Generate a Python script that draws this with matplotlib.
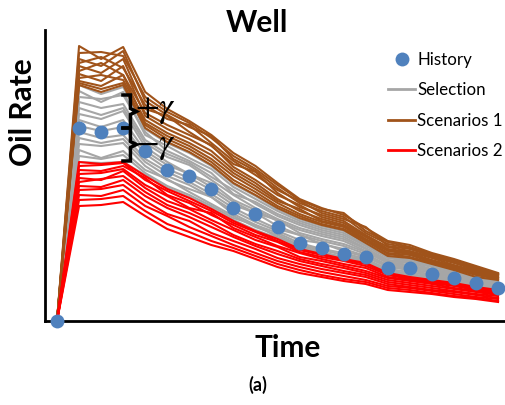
import matplotlib
matplotlib.use("Agg")
import matplotlib.pyplot as plt
from matplotlib.lines import Line2D

plt.rcParams['font.family'] = ['Lato', 'DejaVu Sans']

time = list(range(21))
history = [0, 193, 189, 193, 170, 151, 145, 132, 113, 107, 94, 78, 73, 67, 64, 53, 53, 47, 43, 38, 33]

selection = [
    [0, 236, 227, 234, 192, 178, 168, 155, 137, 125, 112, 102, 95, 90, 78, 65, 63, 57, 51, 44, 41],
    [0, 230, 219, 229, 186, 175, 163, 152, 134, 122, 110, 100, 93, 88, 76, 64, 61, 56, 50, 43, 40],
    [0, 224, 222, 226, 189, 170, 160, 148, 127, 119, 107, 98, 91, 86, 75, 63, 60, 55, 49, 43, 39],
    [0, 219, 213, 217, 181, 167, 158, 144, 131, 117, 105, 96, 89, 84, 73, 61, 59, 54, 48, 42, 38],
    [0, 213, 206, 213, 178, 164, 156, 141, 126, 113, 102, 93, 87, 82, 72, 60, 58, 52, 47, 41, 38],
    [0, 207, 202, 210, 174, 159, 147, 138, 121, 111, 100, 91, 85, 80, 70, 59, 56, 51, 46, 41, 37],
    [0, 201, 194, 201, 170, 156, 147, 134, 119, 108, 101, 88, 82, 77, 69, 58, 55, 50, 45, 40, 36],
    [0, 195, 190, 194, 167, 152, 143, 131, 116, 108, 95, 86, 80, 75, 67, 56, 54, 49, 44, 39, 35],
    [0, 189, 183, 186, 162, 149, 139, 127, 113, 102, 92, 86, 77, 72, 65, 55, 52, 48, 43, 38, 34],
    [0, 183, 178, 182, 159, 145, 136, 124, 110, 99, 90, 81, 78, 70, 64, 54, 51, 46, 42, 37, 34],
    [0, 177, 175, 178, 155, 141, 132, 124, 107, 96, 88, 78, 72, 68, 62, 52, 49, 45, 41, 37, 33],
    [0, 171, 163, 170, 151, 142, 129, 117, 105, 94, 86, 76, 71, 66, 61, 51, 47, 44, 40, 36, 32],
    [0, 165, 162, 166, 148, 135, 126, 115, 103, 96, 84, 75, 69, 64, 60, 50, 46, 43, 39, 35, 31],
    [0, 159, 158, 159, 146, 133, 124, 113, 101, 91, 83, 73, 68, 63, 59, 49, 45, 42, 39, 35, 31],
]

scenarios1 = [
    [0, 275, 262, 274, 229, 212, 200, 186, 168, 155, 138, 122, 113, 106, 93, 80, 76, 68, 62, 55, 48],
    [0, 268, 269, 265, 224, 209, 198, 183, 165, 152, 136, 121, 112, 108, 90, 79, 74, 67, 61, 54, 47],
    [0, 262, 255, 270, 220, 206, 194, 185, 162, 150, 133, 118, 110, 104, 88, 77, 73, 66, 60, 53, 47],
    [0, 258, 264, 253, 216, 202, 196, 178, 160, 146, 131, 120, 108, 102, 94, 75, 72, 65, 59, 52, 46],
    [0, 255, 248, 262, 212, 205, 189, 175, 157, 149, 128, 114, 106, 100, 86, 74, 70, 64, 58, 51, 46],
    [0, 250, 258, 246, 208, 196, 186, 176, 154, 141, 126, 116, 104, 98, 85, 72, 69, 63, 56, 50, 45],
    [0, 247, 240, 255, 205, 192, 182, 170, 151, 138, 122, 110, 102, 96, 84, 71, 68, 61, 55, 49, 44],
    [0, 243, 246, 241, 201, 188, 178, 166, 148, 135, 120, 112, 100, 95, 82, 70, 67, 60, 54, 48, 43],
    [0, 240, 235, 246, 198, 185, 175, 162, 145, 132, 118, 107, 99, 94, 81, 68, 66, 59, 53, 47, 43],
    [0, 238, 232, 238, 196, 182, 172, 159, 141, 129, 115, 105, 97, 92, 80, 67, 64, 58, 52, 46, 42],
    [0, 236, 229, 236, 193, 179, 169, 156, 138, 126, 113, 103, 96, 91, 78, 65, 63, 57, 51, 44, 41],
]

scenarios2 = [
    [0, 159, 157, 159, 145, 132, 123, 112, 100, 90, 82, 72, 67, 62, 58, 48, 44, 41, 38, 34, 31],
    [0, 155, 156, 158, 141, 130, 120, 110, 98, 89, 80, 71, 66, 61, 57, 47, 43, 40, 37, 33, 30],
    [0, 151, 150, 155, 143, 126, 118, 106, 96, 86, 79, 69, 64, 60, 55, 46, 42, 39, 36, 32, 29],
    [0, 147, 148, 152, 136, 125, 113, 108, 93, 84, 75, 68, 62, 57, 53, 44, 41, 38, 35, 31, 28],
    [0, 143, 141, 150, 133, 120, 112, 101, 91, 81, 74, 64, 60, 55, 50, 43, 40, 37, 33, 30, 27],
    [0, 139, 142, 145, 129, 116, 108, 98, 86, 77, 70, 62, 57, 53, 48, 41, 38, 35, 32, 29, 26],
    [0, 135, 134, 141, 125, 113, 104, 94, 84, 75, 67, 60, 55, 50, 46, 39, 36, 33, 30, 27, 25],
    [0, 131, 132, 136, 120, 107, 100, 88, 80, 72, 63, 57, 52, 48, 44, 37, 34, 31, 29, 26, 23],
    [0, 126, 125, 131, 115, 105, 94, 85, 76, 68, 60, 54, 49, 45, 41, 35, 33, 30, 27, 24, 22],
    [0, 121, 122, 125, 110, 97, 89, 80, 73, 65, 57, 51, 46, 42, 39, 33, 31, 28, 25, 23, 20],
    [0, 115, 116, 119, 105, 92, 84, 76, 70, 62, 54, 48, 44, 40, 37, 31, 29, 27, 24, 22, 19],
]

gamma = 33
brace_t = 3.33

GRAY = '#a6a6a6'
BROWN = '#a0531a'
RED = '#ff0000'
BLUE = '#4f81bd'

fig = plt.figure(figsize=(5.06, 4.05), dpi=100)
ax = fig.add_axes([45/506, 84/405, 461/506, 291/405])

for s in selection:
    ax.plot(time, s, color=GRAY, lw=1.5, zorder=2)
for s in scenarios1:
    ax.plot(time, s, color=BROWN, lw=1.5, zorder=3)
for s in scenarios2:
    ax.plot(time, s, color=RED, lw=1.5, zorder=4)
ax.plot(time, history, 'o', color=BLUE, ms=10, mec='none', zorder=6, clip_on=False)

# braces
mid = history[3]
d = 0.34
tick = 0.27
e = 3
for top, bot in [(mid + gamma, mid), (mid, mid - gamma)]:
    m = (top + bot) / 2
    xs = [brace_t - d, brace_t, brace_t, brace_t + tick, brace_t, brace_t, brace_t - d]
    ys = [top, top, m + e, m, m - e, bot, bot]
    ax.plot(xs, ys, color='black', lw=2.5, zorder=7, solid_joinstyle='miter')
ax.text(brace_t + tick - 0.05, mid + gamma / 2 + 1, r'$+\gamma$', fontsize=25, math_fontfamily='stix',
        ha='left', va='center', zorder=8)
ax.text(brace_t + tick - 0.05, mid - gamma / 2 - 2, r'$-\gamma$', fontsize=25, math_fontfamily='stix',
        ha='left', va='center', zorder=8)

ax.set_xlim(-0.544, 20.36)
ax.set_ylim(0, 291)
ax.set_xticks([])
ax.set_yticks([])
for sp in ['top', 'right']:
    ax.spines[sp].set_visible(False)
for sp in ['left', 'bottom']:
    ax.spines[sp].set_linewidth(2)
    ax.spines[sp].set_color('black')

handles = [
    Line2D([], [], marker='o', color=BLUE, ls='none', ms=10, mec='none'),
    Line2D([], [], color=GRAY, lw=2),
    Line2D([], [], color=BROWN, lw=2),
    Line2D([], [], color=RED, lw=2),
]
labels = ['History', 'Selection', 'Scenarios 1', 'Scenarios 2']
fig.legend(handles, labels, loc='upper left', bbox_to_anchor=(388/506, 1 - 52/405),
           bbox_transform=fig.transFigure, frameon=False, fontsize=12.2,
           handlelength=1.6, handletextpad=0.12, labelspacing=0.85, borderpad=0,
           borderaxespad=0)

fig.text(257/506, 1 - 23/405, 'Well', fontsize=21.5, fontweight='bold', ha='center', va='center')
fig.text(288/506, 1 - 348/405, 'Time', fontsize=21.5, fontweight='bold', ha='center', va='center')
fig.text(23/506, 1 - 112/405, 'Oil Rate', fontsize=21.5, fontweight='bold', ha='center', va='center',
         rotation=90)
fig.text(258/506, 1 - 385/405, '(a)', fontsize=13, fontweight='bold', ha='center', va='center')

fig.savefig('out.png', dpi=100)
